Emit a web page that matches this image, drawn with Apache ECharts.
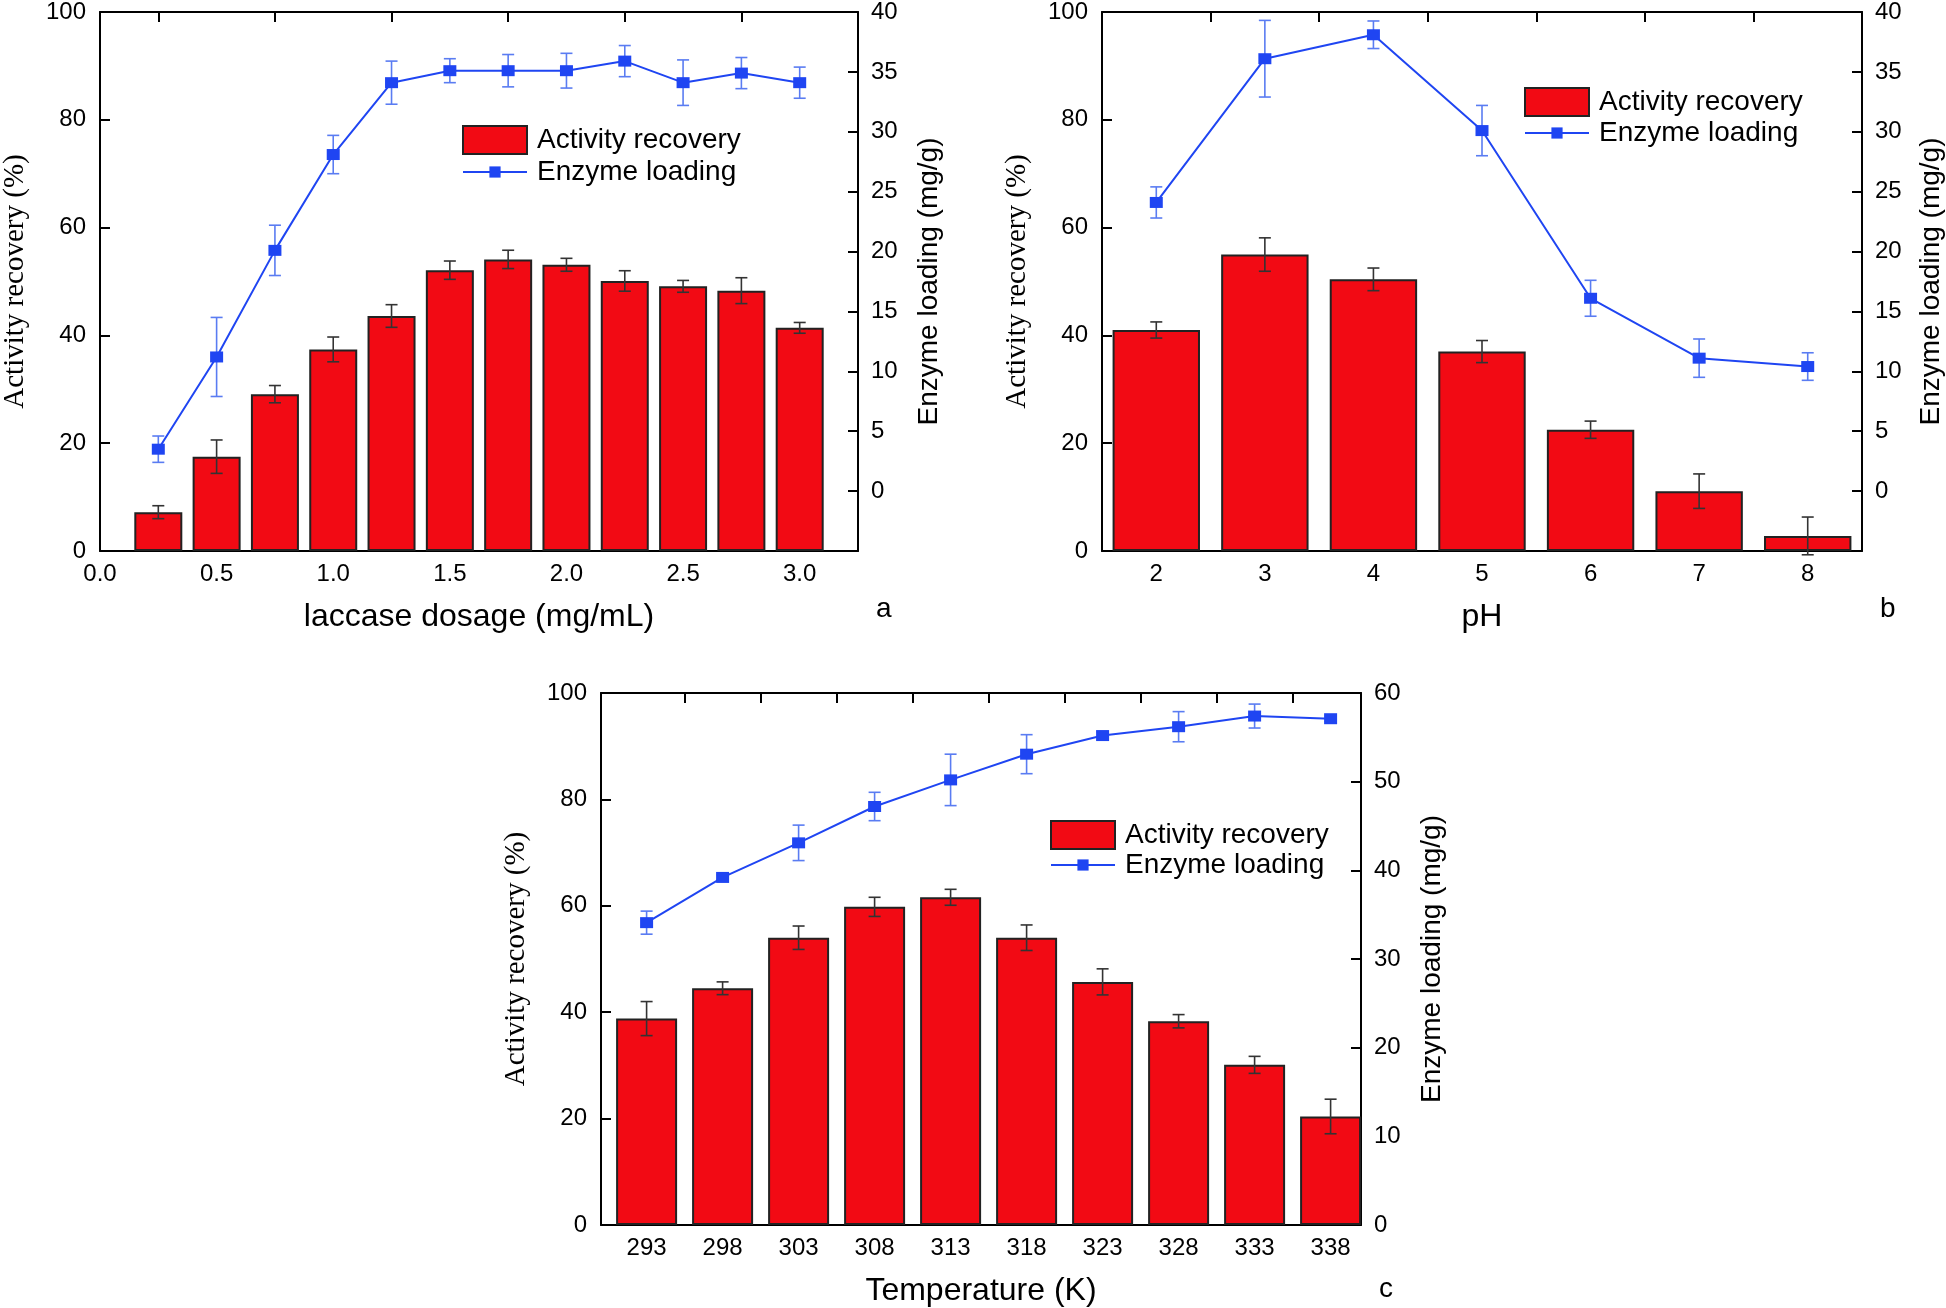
<!DOCTYPE html>
<html><head><meta charset="utf-8">
<script src="https://cdn.jsdelivr.net/npm/echarts@6/dist/echarts.min.js"></script>
<style>html,body{margin:0;padding:0;background:#fff}#c{width:1946px;height:1308px}</style>
</head><body><div id="c"></div>
<script>
// ---------- Panel a : laccase dosage ----------
const dosage = [0.25,0.5,0.75,1.0,1.25,1.5,1.75,2.0,2.25,2.5,2.75,3.0];
const actA = [7.2,17.5,29.1,37.4,43.6,52.1,54.1,53.1,50.1,49.1,48.3,41.4];
const actErrA = [1.2,3.1,1.6,2.3,2.1,1.7,1.7,1.2,1.9,1.1,2.4,1.0];
const loadA = [3.5,11.2,20.1,28.1,34.1,35.1,35.1,35.1,35.9,34.1,34.9,34.1];
const loadErrA = [1.1,3.3,2.1,1.6,1.8,1.0,1.35,1.45,1.3,1.9,1.3,1.3];
const xLabelsA = [0,0.5,1.0,1.5,2.0,2.5,3.0];
const topTicksA = [0.25,0.75,1.25,1.75,2.25,2.75];
// ---------- Panel b : pH ----------
const pH = ['2','3','4','5','6','7','8'];
const actB = [41.0,55.0,50.4,37.0,22.5,11.1,2.8];
const actErrB = [1.5,3.1,2.1,2.05,1.6,3.2,3.5];
const loadB = [24.1,36.1,38.1,30.1,16.1,11.1,10.4];
const loadErrB = [1.3,3.2,1.15,2.1,1.5,1.6,1.15];
// ---------- Panel c : temperature ----------
const temps = [293,298,303,308,313,318,323,328,333,338];
const actC = [38.8,44.5,54.0,59.8,61.6,54.0,45.7,38.3,30.1,20.4];
const actErrC = [3.2,1.2,2.2,1.8,1.5,2.4,2.45,1.25,1.6,3.25];
const loadC = [34.1,39.2,43.1,47.2,50.2,53.1,55.2,56.2,57.4,57.1];
const loadErrC = [1.3,0.3,2.0,1.6,2.9,2.2,0.4,1.7,1.35,0.3];
const topTicksC = [295.5,300.5,305.5,310.5,315.5,320.5,325.5,330.5,335.5];

const SANS = 'Liberation Sans, Arial, sans-serif';
const SERIF = 'Liberation Serif, Times New Roman, serif';
const RED = '#F20A14', BLUE = '#1f45f2', BLUE_ERR = '#5a7cf2', BAR_ERR = '#333';
const TICK_FS = 24, LEG_FS = 28, XT_FS = 32, YT_FS = 29, RT_FS = 28;

function errRender(color, cap) {
  return function (params, api) {
    const x = api.value(0);
    const lo = api.coord([x, api.value(1)]);
    const hi = api.coord([x, api.value(2)]);
    const style = { stroke: color, lineWidth: 1.6 };
    return { type: 'group', children: [
      { type: 'line', shape: { x1: lo[0], y1: lo[1], x2: hi[0], y2: hi[1] }, style },
      { type: 'line', shape: { x1: lo[0] - cap, y1: lo[1], x2: lo[0] + cap, y2: lo[1] }, style },
      { type: 'line', shape: { x1: hi[0] - cap, y1: hi[1], x2: hi[0] + cap, y2: hi[1] }, style }
    ]};
  };
}
function errData(xs, vals, errs) {
  return vals.map((v, i) => [xs[i], v - errs[i], v + errs[i]]);
}
const idx = arr => arr.map((_, i) => i);
const pairs = (xs, ys) => xs.map((x, i) => [x, ys[i]]);

const axLine = { show: true, onZero: false, lineStyle: { color: '#000', width: 2 } };
const tick = (extra) => Object.assign({ show: true, inside: true, length: 10, lineStyle: { color: '#000', width: 2 } }, extra || {});
const lbl = (extra) => Object.assign({ fontSize: TICK_FS, color: '#000', fontFamily: SANS }, extra || {});
const xName = (name) => ({ name: name, nameLocation: 'middle', nameGap: 50,
  nameTextStyle: { fontSize: XT_FS, fontFamily: SANS, color: '#000' } });

function leftY(grid) {
  return { gridIndex: grid, type: 'value', min: 0, max: 100, interval: 20, position: 'left',
    axisLine: axLine, axisTick: tick(), splitLine: { show: false },
    axisLabel: lbl({ margin: 14 }),
    name: 'Activity recovery (%)', nameLocation: 'middle', nameRotate: 90, nameGap: 70,
    nameTextStyle: { fontSize: YT_FS, fontFamily: SERIF, color: '#000' } };
}
function rightY(grid, min, max, interval, gap) {
  return { gridIndex: grid, type: 'value', min: min, max: max, interval: interval, position: 'right',
    axisLine: axLine, axisTick: tick(), splitLine: { show: false },
    axisLabel: lbl({ margin: 13, formatter: v => (v < 0 ? '' : String(v)) }),
    name: 'Enzyme loading (mg/g)', nameLocation: 'middle', nameRotate: 90, nameGap: gap,
    nameTextStyle: { fontSize: RT_FS, fontFamily: SANS, color: '#000' } };
}
function valBottom(grid, min, max, ticks, labels, fmt, name) {
  return Object.assign({ gridIndex: grid, type: 'value', min: min, max: max, position: 'bottom',
    axisLine: axLine, axisTick: tick({ customValues: ticks }), splitLine: { show: false },
    axisLabel: lbl({ margin: 11, customValues: labels, formatter: fmt }) }, xName(name));
}
function valTop(grid, min, max, ticks) {
  return { gridIndex: grid, type: 'value', min: min, max: max, position: 'top',
    axisLine: axLine, axisTick: tick({ customValues: ticks }), axisLabel: { show: false },
    splitLine: { show: false } };
}

function barSeries(x, y, data, width) {
  return { type: 'bar', name: 'Activity recovery', xAxisIndex: x, yAxisIndex: y, data: data,
    barWidth: width, z: 2,
    itemStyle: { color: RED, borderColor: '#222', borderWidth: 2 } };
}
function lineSeries(x, y, data) {
  return { type: 'line', name: 'Enzyme loading', xAxisIndex: x, yAxisIndex: y, data: data,
    symbol: 'rect', symbolSize: [13, 11], z: 6,
    lineStyle: { color: BLUE, width: 2 }, itemStyle: { color: BLUE } };
}
function errSeries(x, y, data, color, z) {
  return { type: 'custom', xAxisIndex: x, yAxisIndex: y, data: data, z: z, clip: false,
    encode: { x: 0, y: [1, 2] }, renderItem: errRender(color, 6), silent: true };
}
function legends(left, top, lineTop) {
  const ts = { fontSize: LEG_FS, fontFamily: SANS, color: '#000', padding: [0, 0, 0, 5] };
  return [
    { data: ['Activity recovery'], left: left, top: top, padding: 0, itemWidth: 64, itemHeight: 28,
      icon: 'rect', textStyle: ts, selectedMode: false },
    { data: ['Enzyme loading'], left: left, top: lineTop, padding: 0, itemWidth: 64, itemHeight: 14,
      textStyle: ts, selectedMode: false }
  ];
}

const option = {
  animation: false,
  backgroundColor: '#fff',
  grid: [
    { left: 99, top: 10, width: 759, height: 541 },
    { left: 1102, top: 10, width: 760, height: 541 },
    { left: 601, top: 693, width: 760, height: 535 }
  ],
  xAxis: [
    valBottom(0, 0, 3.25, dosage, xLabelsA, v => v.toFixed(1), 'laccase dosage (mg/mL)'),
    valTop(0, 0, 3.25, topTicksA),
    Object.assign({ gridIndex: 1, type: 'category', data: pH, position: 'bottom', boundaryGap: true,
      axisLine: axLine, axisTick: tick({ alignWithLabel: true }), splitLine: { show: false },
      axisLabel: lbl({ margin: 11 }) }, xName('pH')),
    { gridIndex: 1, type: 'category', data: pH, position: 'top', boundaryGap: true,
      axisLine: axLine, axisTick: tick(), axisLabel: { show: false }, splitLine: { show: false } },
    valBottom(2, 290, 340, temps, temps, v => String(v), 'Temperature (K)'),
    valTop(2, 290, 340, topTicksC)
  ],
  yAxis: [
    leftY(0), rightY(0, -5, 40, 5, 57),
    leftY(1), rightY(1, -5, 40, 5, 55),
    leftY(2), rightY(2, 0, 60, 10, 57)
  ],
  legend: [].concat(legends(462, 125, 158), legends(1524, 87, 119), legends(1050, 820, 851)),
  series: [
    barSeries(0, 0, pairs(dosage, actA), 48),
    errSeries(0, 0, errData(dosage, actA, actErrA), BAR_ERR, 3),
    errSeries(0, 1, errData(dosage, loadA, loadErrA), BLUE_ERR, 4),
    lineSeries(0, 1, pairs(dosage, loadA)),

    barSeries(2, 2, actB, '80.5%'),
    errSeries(2, 2, errData(idx(pH), actB, actErrB), BAR_ERR, 3),
    errSeries(2, 3, errData(idx(pH), loadB, loadErrB), BLUE_ERR, 4),
    lineSeries(2, 3, loadB),

    barSeries(4, 4, pairs(temps, actC), 61),
    errSeries(4, 4, errData(temps, actC, actErrC), BAR_ERR, 3),
    errSeries(4, 5, errData(temps, loadC, loadErrC), BLUE_ERR, 4),
    lineSeries(4, 5, pairs(temps, loadC))
  ],
  graphic: [
    { type: 'text', left: 876, top: 595, style: { text: 'a', fontSize: 28, fontFamily: SANS, fill: '#000' } },
    { type: 'text', left: 1880, top: 595, style: { text: 'b', fontSize: 28, fontFamily: SANS, fill: '#000' } },
    { type: 'text', left: 1379, top: 1275, style: { text: 'c', fontSize: 28, fontFamily: SANS, fill: '#000' } }
  ]
};
const chart = echarts.init(document.getElementById('c'), null, { renderer: 'canvas' });
chart.setOption(option);
</script>
</body></html>
